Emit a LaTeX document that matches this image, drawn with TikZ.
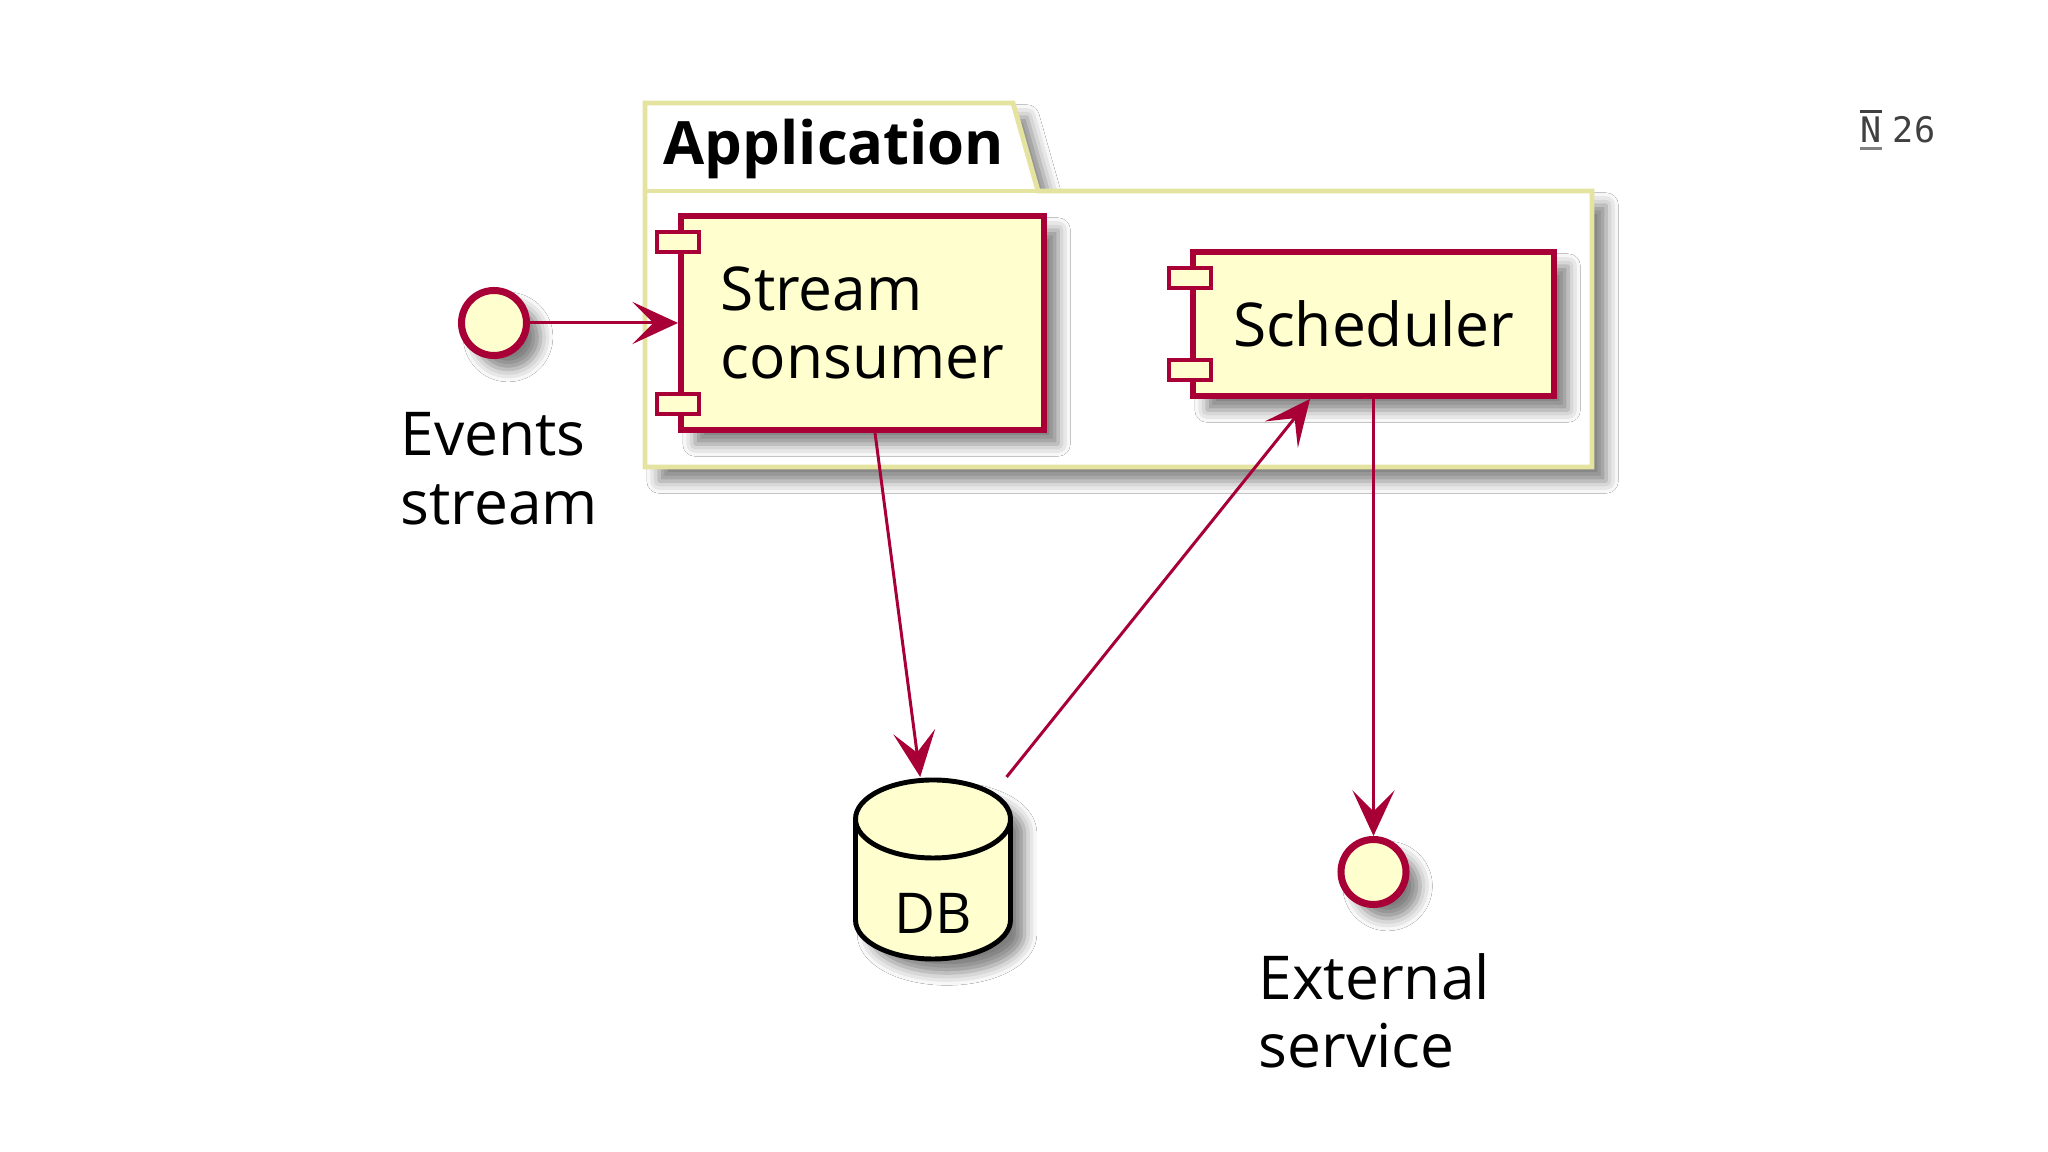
\documentclass[tikz,border=0pt]{standalone}
\usepackage{fontspec}
\setmainfont{Open Sans}
\newfontfamily\logofont{DejaVu Sans Mono}
\usetikzlibrary{positioning,calc,arrows.meta,shadows.blur}

\definecolor{umlred}{HTML}{A80036}
\definecolor{umlfill}{HTML}{FEFECE}
\definecolor{pkgline}{RGB}{228,228,160}

\begin{document}
\begin{tikzpicture}[
	umlshadow/.style={blur shadow={shadow xshift=4pt, shadow yshift=-4pt, shadow blur radius=3.5pt, shadow opacity=50}},
	comp/.style={draw=umlred, line width=1.7pt, fill=umlfill, align=left, inner sep=0pt, umlshadow, font=\fontsize{17.2}{19.4}\selectfont},
	port/.style={draw=umlred, line width=1.4pt, fill=umlfill},
	iface/.style={circle, draw=umlred, line width=2pt, fill=umlfill, minimum size=0.65cm, inner sep=0pt, umlshadow},
	lbl/.style={align=left, inner sep=0pt, font=\fontsize{17.2}{19.4}\selectfont},
	pkg/.style={draw=pkgline, line width=1.4pt},
	dbshape/.style={draw=black, line width=1.4pt, fill=umlfill},
	flow/.style={draw=umlred, line width=0.85pt, -{Stealth[length=13pt, width=12pt, inset=6pt]}},
	logo/.style={inner sep=0pt, text=darkgray, font=\logofont\fontsize{10}{12}\selectfont}
]
	\fill[white] (0,0) rectangle (20.48,11.52);
	\useasboundingbox (0,0) rectangle (20.48,11.52);

	\draw[pkg, fill=white, umlshadow] (6.45,10.49) -- (10.13,10.49) -- (10.38,9.61) -- (15.92,9.61) -- (15.92,6.85) -- (6.45,6.85) -- cycle;
	\draw[pkg] (6.45,9.61) -- (10.38,9.61);
	\node[anchor=base west, inner sep=0pt, font=\bfseries\fontsize{17}{20}\selectfont] (app) at (6.63,9.87) {Application};

	\node[comp, minimum width=3.63cm, minimum height=2.14cm] (stream) at (8.625,8.29) {Stream\\consumer};
	\node[comp, minimum width=3.61cm, minimum height=1.44cm] (sched) at (13.735,8.28) {Scheduler};
	\foreach \c in {stream,sched} {
		\draw[port] ([yshift=-0.29cm]\c.north west) +(-0.21,-0.1) rectangle +(0.21,0.1);
		\draw[port] ([yshift=0.29cm]\c.south west) +(-0.21,-0.1) rectangle +(0.21,0.1);
	}

	\node[iface] (events) at (4.94,8.29) {};
	\node[lbl, anchor=north west] (eventslbl) at (4.00,7.40) {Events\\stream};
	\node[iface] (ext) at (13.735,2.80) {};
	\node[lbl, anchor=north west] (extlbl) at (12.58,1.99) {External\\service};

	\coordinate (dbc) at (9.33,2.825);
	\draw[dbshape, umlshadow] ([shift={(-0.775,0.505)}]dbc) -- ([shift={(-0.775,-0.505)}]dbc)
		arc[start angle=180, end angle=360, x radius=0.775, y radius=0.39] -- ([shift={(0.775,0.505)}]dbc)
		arc[start angle=0, end angle=180, x radius=0.775, y radius=0.39] -- cycle;
	\draw[dbshape, fill=none] ([shift={(-0.775,0.505)}]dbc) arc[start angle=180, end angle=360, x radius=0.775, y radius=0.39];
	\node[minimum width=1.6cm, minimum height=1.85cm, inner sep=0pt, outer sep=0pt,
		label={[inner sep=0pt, yshift=-0.435cm, font=\fontsize{16}{19}\selectfont]center:DB}] (db) at (dbc) {};

	\draw[flow] (events) -- (stream);
	\draw[flow] ($(stream.south west)!0.534!(stream.south east)$) -- ($(db.north west)!0.42!(db.north east)$);
	\draw[flow] ($(db.north west)!0.96!(db.north east)$) -- ($(sched.south west)!0.327!(sched.south east)$);
	\draw[flow] (sched.south) -- (ext);

	\node[logo] (logon) at (18.71,10.22) {N};
	\node[logo, right=0.1cm of logon] (logo26) {26};
	\draw[darkgray, line width=0.6pt] ([yshift=0.05cm]logon.north west) -- ([yshift=0.05cm]logon.north east);
	\draw[gray, line width=1.1pt] ([yshift=-0.05cm]logon.south west) -- ([yshift=-0.05cm]logon.south east);
\end{tikzpicture}
\end{document}
